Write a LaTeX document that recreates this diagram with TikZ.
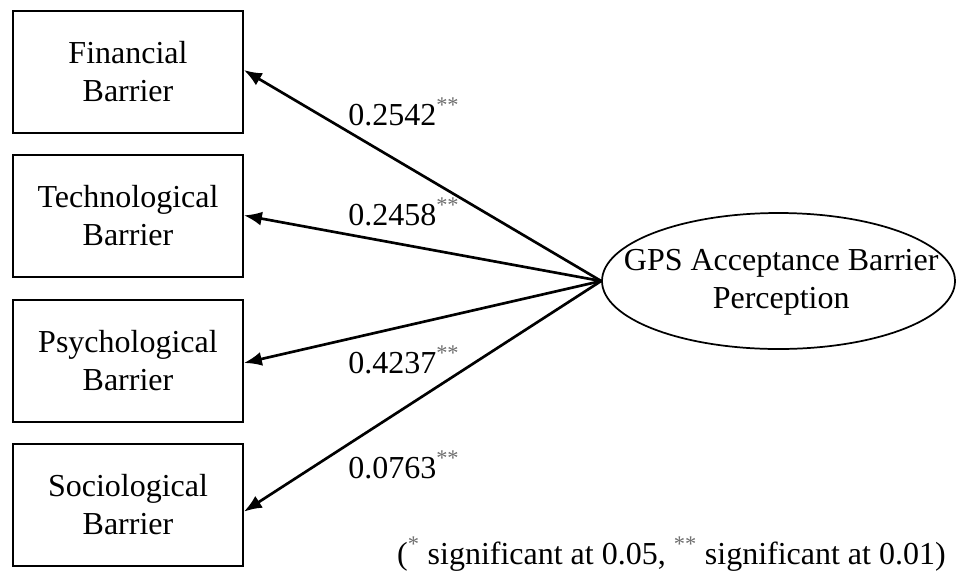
\documentclass[tikz,border=0pt]{standalone}
\usepackage{fontspec}
\setmainfont{Liberation Serif}
\usetikzlibrary{arrows.meta,shapes.geometric}
\definecolor{stargray}{RGB}{110,110,110}
\newcommand{\sigstar}[1]{\textsuperscript{\color{stargray}#1}}
\begin{document}
\begin{tikzpicture}[x=0.75pt,y=-0.75pt,
  every node/.style={font=\fontsize{24}{28.5}\selectfont},
  barrierbox/.style={draw,line width=1.3pt,minimum width=172.5pt,minimum height=91.5pt,align=center,inner sep=0pt},
  latent/.style={draw,ellipse,line width=1.3pt,minimum width=264.75pt,minimum height=102pt,inner sep=0pt},
  loading/.style={anchor=base west,inner sep=0pt},
  path/.style={line width=2pt,-{Latex[length=13.5pt,width=10.5pt]}}]
\useasboundingbox (0,0) rectangle (960,576);

% measured variables
\node[barrierbox] (fin) at (128,72)  {Financial\\Barrier};
\node[barrierbox] (tec) at (128,216) {Technological\\Barrier};
\node[barrierbox] (psy) at (128,361) {Psychological\\Barrier};
\node[barrierbox] (soc) at (128,505) {Sociological\\Barrier};

% latent construct: fixed-size ellipse with its caption on top
\node[latent] (gps) at (778.5,281) {};
\node[align=center,inner sep=0pt] (gpstext) at ([xshift=2pt,yshift=-1pt]gps.center) {GPS Acceptance Barrier\\Perception};

% loadings
\draw[path] (gps.west) -- ([yshift=1.5pt]fin.east);
\draw[path] (gps.west) -- ([yshift=0.5pt]tec.east);
\draw[path] (gps.west) -- ([yshift=-1.5pt]psy.east);
\draw[path] (gps.west) -- ([yshift=-5pt]soc.east);

\node[loading] (l1) at (348,125) {0.2542\sigstar{**}};
\node[loading] (l2) at (348,225) {0.2458\sigstar{**}};
\node[loading] (l3) at (348,373) {0.4237\sigstar{**}};
\node[loading] (l4) at (348,478) {0.0763\sigstar{**}};

% significance note
\node[anchor=base east,inner sep=0pt] (note) at (946,564)
  {(\sigstar{*} significant at 0.05, \sigstar{**} significant at 0.01)};
\end{tikzpicture}
\end{document}
